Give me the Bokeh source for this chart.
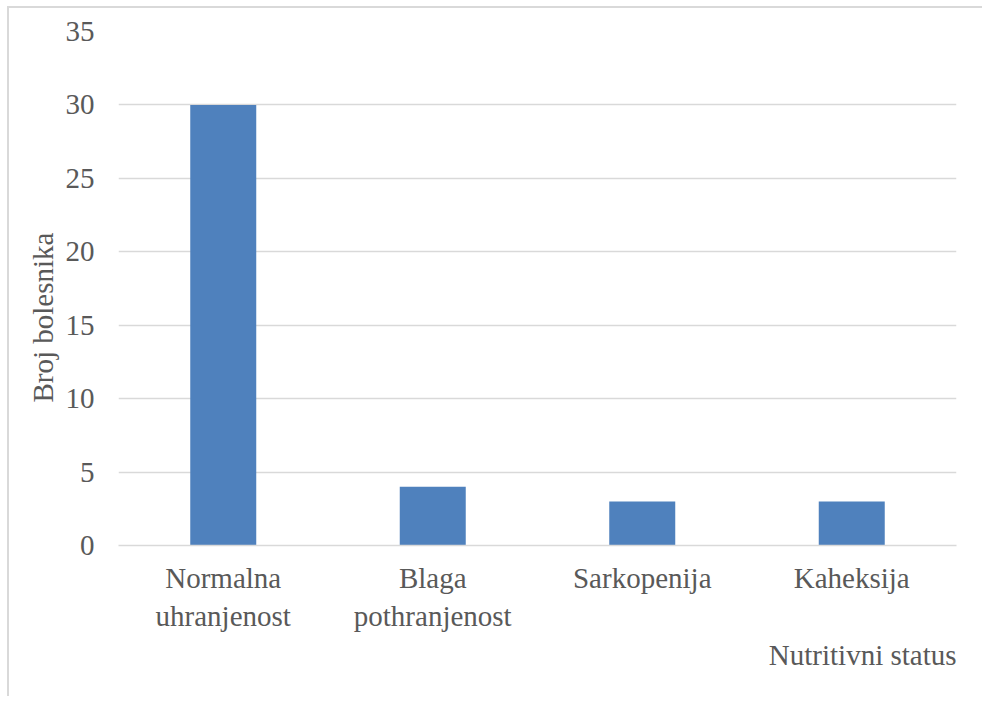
from bokeh.plotting import figure
from bokeh.models import Title, FactorRange
from bokeh.embed import file_html
from bokeh.resources import INLINE

categories = ["Normalna\nuhranjenost", "Blaga\npothranjenost", "Sarkopenija", "Kaheksija"]
values = [30, 4, 3, 3]
y_ticks = [0, 5, 10, 15, 20, 25, 30, 35]
y_title = "Broj bolesnika"
x_title = "Nutritivni status"

FONT = "Liberation Serif"
FS = "29px"
TXT = "#595959"
GRID = "#d9d9d9"

W, H = 975, 690
p = figure(x_range=FactorRange(*categories), y_range=(0, 35), width=W, height=H,
           output_backend="svg", toolbar_location=None,
           min_border_left=109, min_border_right=28, min_border_top=23, min_border_bottom=153)
p.styles = {"border-left": "2px solid #d9d9d9", "border-top": "2px solid #d9d9d9",
            "margin-left": "7px", "margin-top": "6px"}
p.outline_line_color = None

p.vbar(x=categories, top=values, width=0.315, color="#4F81BD", line_color=None)

p.yaxis.ticker = y_ticks
p.yaxis.axis_line_color = None
p.yaxis.major_tick_line_color = None
p.yaxis.minor_tick_line_color = None
p.yaxis.major_label_text_font = FONT
p.yaxis.major_label_text_font_size = FS
p.yaxis.major_label_text_color = TXT
p.yaxis.major_label_standoff = 18

p.xaxis.axis_line_color = GRID
p.xaxis.axis_line_width = 1.5
p.xaxis.major_tick_line_color = None
p.xaxis.minor_tick_line_color = None
p.xaxis.major_label_text_font = FONT
p.xaxis.major_label_text_font_size = FS
p.xaxis.major_label_text_color = TXT
p.xaxis.major_label_standoff = 10

p.xgrid.grid_line_color = None
p.ygrid.grid_line_color = GRID
p.ygrid.grid_line_width = 1.5

p.add_layout(Title(text=y_title, align="left", offset=143, text_font=FONT,
                   text_font_size=FS, text_color=TXT, text_font_style="normal",
                   standoff=8), "left")
p.add_layout(Title(text=x_title, align="right", text_font=FONT,
                   text_font_size=FS, text_color=TXT, text_font_style="normal",
                   standoff=5), "below")

open("out.html", "w").write(file_html(p, INLINE))
